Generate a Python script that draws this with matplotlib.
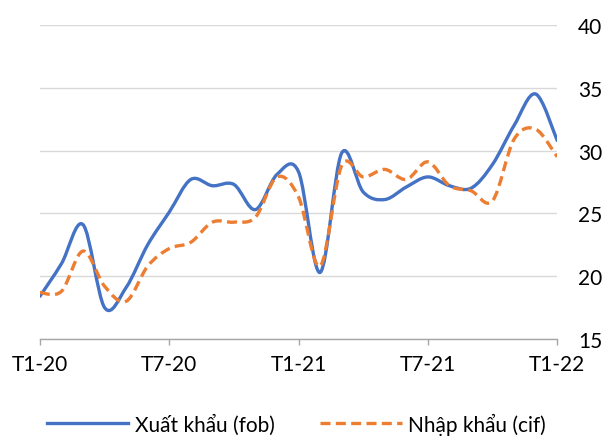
import matplotlib
matplotlib.use("Agg")
import matplotlib.pyplot as plt
from matplotlib.path import Path
from matplotlib.patches import PathPatch
from matplotlib.lines import Line2D

# Monthly values, T1-20 .. T1-22
months = list(range(25))
tick_pos = [0, 6, 12, 18, 24]
tick_labels = ["T1-20", "T7-20", "T1-21", "T7-21", "T1-22"]

exports = [18.4, 21.0, 24.1, 17.5, 19.1, 22.5, 25.1, 27.7, 27.2, 27.3, 25.3, 28.1, 28.3,
           20.3, 29.8, 26.7, 26.1, 27.1, 27.9, 27.2, 27.0, 28.9, 32.0, 34.5, 30.8]
imports = [18.7, 18.8, 22.0, 19.2, 18.0, 20.8, 22.2, 22.7, 24.3, 24.3, 24.7, 27.9, 26.3,
           20.8, 28.8, 27.9, 28.5, 27.7, 29.1, 27.2, 26.8, 26.0, 30.9, 31.7, 29.5]

plt.rcParams['font.family'] = ['Lato', 'DejaVu Sans']

BLUE = '#4472C4'
ORANGE = '#ED7D31'


# Smoothed line like Excel: Bezier segments through the data points
def smooth_path(xs, ys):
    pts = list(zip(xs, ys))
    n = len(pts)
    verts = [pts[0]]
    codes = [Path.MOVETO]
    for i in range(n - 1):
        p0 = pts[max(i - 1, 0)]
        p1 = pts[i]
        p2 = pts[i + 1]
        p3 = pts[min(i + 2, n - 1)]
        c1 = (p1[0] + (p2[0] - p0[0]) / 6, p1[1] + (p2[1] - p0[1]) / 6)
        c2 = (p2[0] - (p3[0] - p1[0]) / 6, p2[1] - (p3[1] - p1[1]) / 6)
        verts += [c1, c2, p2]
        codes += [Path.CURVE4] * 3
    return Path(verts, codes)


fig = plt.figure(figsize=(6.05, 4.39), dpi=100)
ax = fig.add_axes([0.066, 0.2255, 0.855, 0.7155])

ax.add_patch(PathPatch(smooth_path(months, exports), fill=False, edgecolor=BLUE,
                       linewidth=2.4, capstyle='round', zorder=3))
ax.add_patch(PathPatch(smooth_path(months, imports), fill=False, edgecolor=ORANGE,
                       linewidth=2.4, linestyle=(0, (3, 1.6)), zorder=4))

ax.set_xlim(0, 24)
ax.set_ylim(15, 40)

# Gridlines
ax.set_yticks([15, 20, 25, 30, 35, 40])
ax.yaxis.grid(True, color='#D9D9D9', linewidth=1.0)
ax.set_axisbelow(True)

ax.yaxis.tick_right()
ax.tick_params(axis='y', length=0, pad=15, labelsize=15, labelcolor='#000000')

ax.set_xticks(tick_pos)
ax.set_xticklabels(tick_labels)
ax.tick_params(axis='x', direction='out', length=4.5, width=1, color='#A6A6A6',
               pad=6, labelsize=15)

for s in ['top', 'left', 'right']:
    ax.spines[s].set_visible(False)
ax.spines['bottom'].set_color('#A6A6A6')
ax.spines['bottom'].set_linewidth(1)

handles = [Line2D([], [], color=BLUE, linewidth=2.4),
           Line2D([], [], color=ORANGE, linewidth=2.4, linestyle=(0, (3, 1.6)))]
fig.legend(handles, ["Xuất khẩu (fob)", "Nhập khẩu (cif)"], loc='center',
           bbox_to_anchor=(0.49, 0.033), ncol=2, frameon=False, fontsize=15,
           handlelength=3.9, handletextpad=0.3, columnspacing=2.2)

fig.savefig("out.png", dpi=100)
